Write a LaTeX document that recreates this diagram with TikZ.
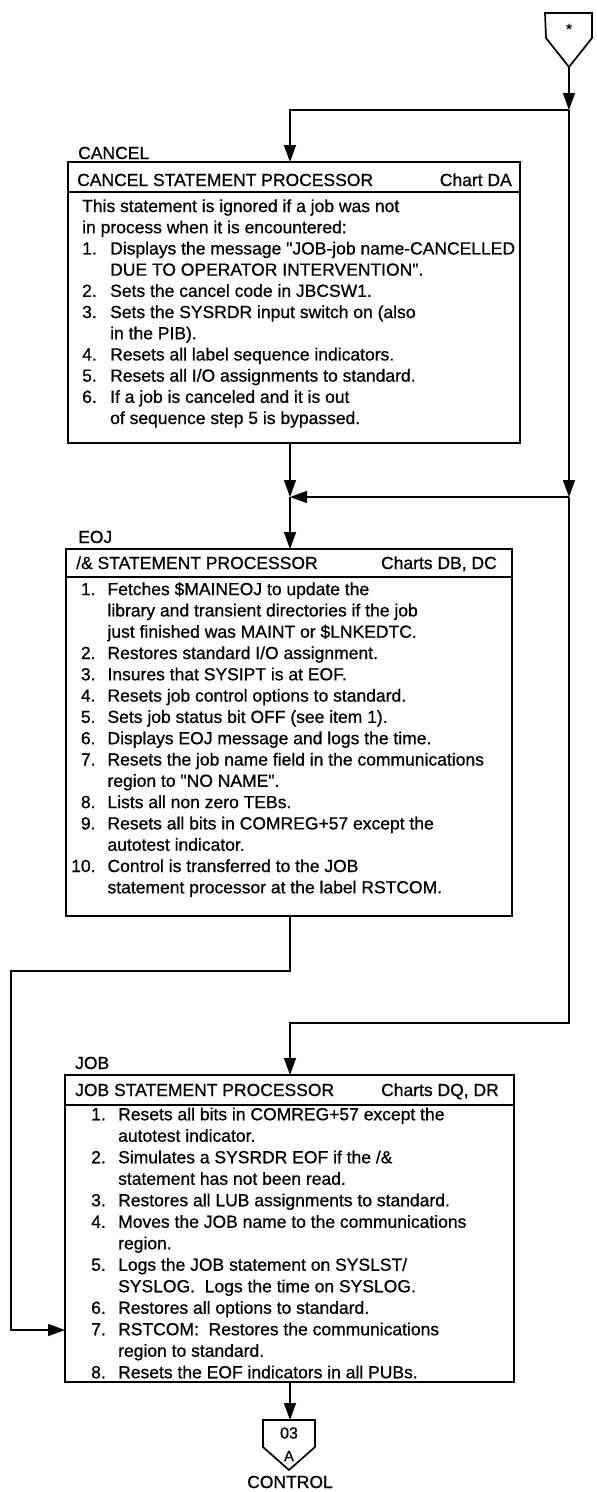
\documentclass[tikz,border=0pt]{standalone}
\usepackage{fontspec}
\setmainfont{Liberation Sans}[Ligatures=TeXOff, FakeBold=0.7]
\usepackage{array}
\usetikzlibrary{arrows.meta,calc}
\newcommand\myfs{\fontsize{17.5}{21.3}\selectfont}
\begin{document}
\begin{tikzpicture}[x=1pt,y=-1pt,
  box/.style={draw, line width=2pt, inner sep=0pt, outer sep=0pt, anchor=north west},
  div/.style={line width=1.3pt},
  conn/.style={line width=1.4pt},
  arr/.style={line width=1.4pt, -{Triangle[width=12pt,length=17pt]}},
  lbl/.style={inner sep=0pt, font=\myfs},
  body/.style={inner sep=0pt, anchor=north west, align=left, font=\myfs},
  conshape/.style={line width=1.7pt, line join=miter}]
\useasboundingbox (0,0) rectangle (597,1492);

% ---- top off-page connector
\draw[conshape] (545,13) -- (592,13) -- (592,38) -- (569,67) -- (546,38) -- cycle;
\node[inner sep=0pt] (star) at (569,29) {\fontsize{15}{15}\selectfont *};
\coordinate (ptop) at (569,67);

% ---- CANCEL box
\node[lbl, anchor=base west] (clab) at (78,159) {CANCEL};
\node[box, minimum width=452pt, minimum height=281pt] (cancel) at (68,162) {};
\draw[div] (68,192) -- (520,192);
\node[lbl, anchor=base west] (chead) at (77,186) {CANCEL STATEMENT PROCESSOR};
\node[lbl, anchor=base east] (cchart) at (512,186) {Chart DA};
\node[body] (cbody) at (82,197) {\fontsize{17.5}{21.2}\selectfont
\begin{tabular}{@{}p{28pt}@{}l@{}}
\multicolumn{2}{@{}l@{}}{This statement is ignored if a job was not}\\
\multicolumn{2}{@{}l@{}}{in process when it is encountered:}\\
1. & Displays the message "JOB-job name-CANCELLED\\
   & DUE TO OPERATOR INTERVENTION".\\
2. & Sets the cancel code in JBCSW1.\\
3. & Sets the SYSRDR input switch on (also\\
   & in the PIB).\\
4. & Resets all label sequence indicators.\\
5. & Resets all I/O assignments to standard.\\
6. & If a job is canceled and it is out\\
   & of sequence step 5 is bypassed.
\end{tabular}};

% ---- EOJ box
\node[lbl, anchor=base west] (elab) at (78,543) {EOJ};
\node[box, minimum width=446pt, minimum height=367pt] (eoj) at (66,549) {};
\draw[div] (66,577) -- (512,577);
\node[lbl, anchor=base west] (ehead) at (76,569) {/\& STATEMENT PROCESSOR};
\node[lbl, anchor=base east] (echart) at (497,569) {Charts DB, DC};
\node[body] (ebody) at (71,580) {\fontsize{17.5}{21.3}\selectfont
\begin{tabular}{@{}r@{\hspace{12pt}}l@{}}
1. & Fetches \$MAINEOJ to update the\\
   & library and transient directories if the job\\
   & just finished was MAINT or \$LNKEDTC.\\
2. & Restores standard I/O assignment.\\
3. & Insures that SYSIPT is at EOF.\\
4. & Resets job control options to standard.\\
5. & Sets job status bit OFF (see item 1).\\
6. & Displays EOJ message and logs the time.\\
7. & Resets the job name field in the communications\\
   & region to "NO NAME".\\
8. & Lists all non zero TEBs.\\
9. & Resets all bits in COMREG+57 except the\\
   & autotest indicator.\\
10. & Control is transferred to the JOB\\
   & statement processor at the label RSTCOM.
\end{tabular}};

% ---- JOB box
\node[lbl, anchor=base west] (jlab) at (75,1069) {JOB};
\node[box, minimum width=449pt, minimum height=307pt] (job) at (65,1075) {};
\draw[div] (65,1105) -- (514,1105);
\node[lbl, anchor=base west] (jhead) at (75,1096) {JOB STATEMENT PROCESSOR};
\node[lbl, anchor=base east] (jchart) at (499,1096) {Charts DQ, DR};
\node[body] (jbody) at (91,1105) {\fontsize{17.5}{21.5}\selectfont
\begin{tabular}{@{}p{27pt}@{}l@{}}
1. & Resets all bits in COMREG+57 except the\\
   & autotest indicator.\\
2. & Simulates a SYSRDR EOF if the /\&\\
   & statement has not been read.\\
3. & Restores all LUB assignments to standard.\\
4. & Moves the JOB name to the communications\\
   & region.\\
5. & Logs the JOB statement on SYSLST/\\
   & SYSLOG.\ \ Logs the time on SYSLOG.\\
6. & Restores all options to standard.\\
7. & RSTCOM:\ \ Restores the communications\\
   & region to standard.\\
8. & Resets the EOF indicators in all PUBs.
\end{tabular}};

% ---- bottom off-page connector
\draw[conshape] (263,1420) -- (315,1420) -- (315,1447) -- (289,1470) -- (263,1447) -- cycle;
\coordinate (pbot) at (290,1420);
\node[inner sep=0pt] (n03) at (289,1433) {\fontsize{16}{16}\selectfont 03};
\node[inner sep=0pt] (nA) at (289,1456) {\fontsize{15}{15}\selectfont A};
\node[lbl] (ctrl) at (290,1482) {CONTROL};

% ---- connectors
\coordinate (R1) at (569,110);
\coordinate (L1) at (290,110);
\coordinate (R2) at (569,497);
\coordinate (M2) at (290,497);
\coordinate (R3) at (569,1023);
\coordinate (M3) at (290,1023);
\coordinate (E1) at (290,971);
\coordinate (E2) at (11,971);
\coordinate (E3) at (11,1330);

\draw[arr] (ptop) -- (R1);
\draw[arr] (R1) -- (L1) -- (L1 |- cancel.north);
\draw[arr] (R1) -- (R2);
\draw[arr] (R2) -- (M2);
\draw[arr] (M2 |- cancel.south) -- (M2);
\draw[arr] (M2) -- (M2 |- eoj.north);
\draw[arr] (R2) -- (R3) -- (M3) -- (M3 |- job.north);
\draw[arr] (E1 |- eoj.south) -- (E1) -- (E2) -- (E3) -- (E3 -| job.west);
\draw[arr] (M3 |- job.south) -- (pbot);
\end{tikzpicture}
\end{document}
